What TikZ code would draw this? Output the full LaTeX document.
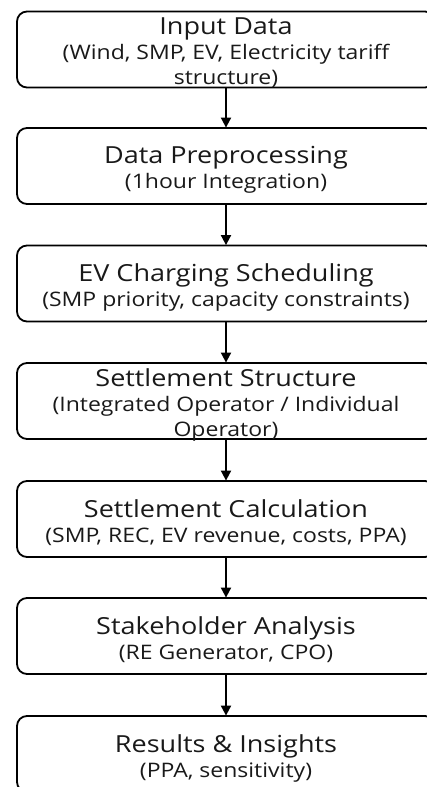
\documentclass[tikz,border=0pt]{standalone}
\usepackage{fontspec}
\setmainfont{Open Sans}[FakeStretch=1.15]
\usetikzlibrary{arrows.meta}
\newcommand{\ttl}{\fontsize{23.5pt}{25pt}\selectfont}
\newcommand{\subt}{\fontsize{20pt}{25pt}\selectfont}
\tikzset{
  box/.style={draw=black, line width=1.8pt, rounded corners=10pt,
    minimum width=418pt, minimum height=76pt, inner sep=0pt},
  lbl/.style={align=center, inner sep=0pt, text=black!90, font=\subt},
  flow/.style={line width=1.8pt, -{Triangle[width=10pt,length=10pt]}, shorten >=-0.5pt}
}
\begin{document}
\begin{tikzpicture}[x=1pt,y=-1pt]
\useasboundingbox (0,0) rectangle (426,787);
\node[box] (b1) at (226,49.5) {};
\node[box] (b2) at (226,166) {};
\node[box] (b3) at (226,283.5) {};
\node[box] (b4) at (226,401) {};
\node[box] (b5) at (226,519) {};
\node[box] (b6) at (226,636) {};
\node[box] (b7) at (226,754) {};
\node[lbl] (t1) at ([yshift=-3pt]b1.center) {\ttl Input Data\\ \subt (Wind, SMP, EV, Electricity tariff\\ \subt structure)};
\node[lbl] (t2) at ([yshift=-4pt]b2.center) {\ttl Data Preprocessing\\ \subt (1hour Integration)};
\node[lbl] (t3) at ([yshift=-4pt]b3.center) {\ttl EV Charging Scheduling\\ \subt (SMP priority, capacity constraints)};
\node[lbl] (t4) at ([yshift=-4pt]b4.center) {\ttl Settlement Structure\\ \subt (Integrated Operator / Individual\\ \subt Operator)};
\node[lbl] (t5) at ([yshift=-4pt]b5.center) {\ttl Settlement Calculation\\ \subt (SMP, REC, EV revenue, costs, PPA)};
\node[lbl] (t6) at ([yshift=-4pt]b6.center) {\ttl Stakeholder Analysis\\ \subt (RE Generator, CPO)};
\node[lbl] (t7) at ([yshift=-4pt]b7.center) {\ttl Results \& Insights\\ \subt (PPA, sensitivity)};
\draw[flow] (b1.south) -- (b2.north);
\draw[flow] (b2.south) -- (b3.north);
\draw[flow] (b3.south) -- (b4.north);
\draw[flow] (b4.south) -- (b5.north);
\draw[flow] (b5.south) -- (b6.north);
\draw[flow] (b6.south) -- (b7.north);
\end{tikzpicture}
\end{document}
